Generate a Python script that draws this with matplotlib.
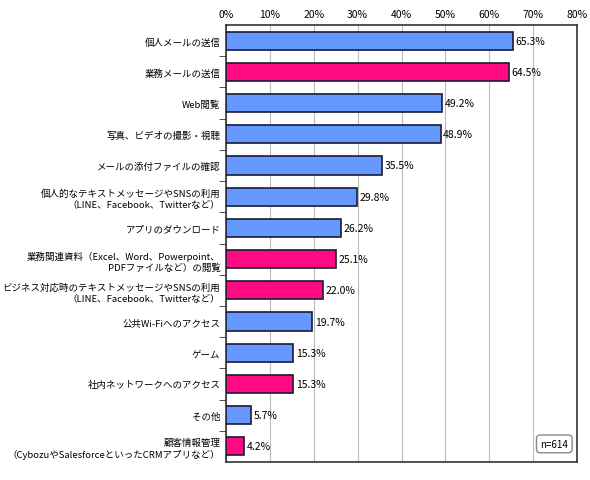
import matplotlib
matplotlib.use("Agg")
import matplotlib.pyplot as plt
from matplotlib.ticker import FixedLocator

plt.rcParams['font.family'] = ['Noto Sans CJK JP', 'DejaVu Sans']

categories = ["個人メールの送信", "業務メールの送信", "Web閲覧", "写真、ビデオの撮影・視聴",
              "メールの添付ファイルの確認",
              "個人的なテキストメッセージやSNSの利用\n（LINE、Facebook、Twitterなど）",
              "アプリのダウンロード",
              "業務関連資料（Excel、Word、Powerpoint、\nPDFファイルなど）の閲覧",
              "ビジネス対応時のテキストメッセージやSNSの利用\n（LINE、Facebook、Twitterなど）",
              "公共Wi-Fiへのアクセス", "ゲーム", "社内ネットワークへのアクセス", "その他",
              "顧客情報管理\n（CybozuやSalesforceといったCRMアプリなど）"]
values = [65.3, 64.5, 49.2, 48.9, 35.5, 29.8, 26.2, 25.1, 22.0, 19.7, 15.3, 15.3, 5.7, 4.2]
business = [0, 1, 0, 0, 0, 0, 0, 1, 1, 0, 0, 1, 0, 1]
ticks = [0, 10, 20, 30, 40, 50, 60, 70, 80]

blue, pink = "#6699FF", "#FF0A82"
fig = plt.figure(figsize=(5.9, 4.81), dpi=100)
ax = fig.add_axes([226/590, 1-463/481, 351/590, 437/481])
y = list(range(len(values)))
ax.barh(y, values, height=0.58, color=[pink if b else blue for b in business],
        edgecolor="#1a1a33", linewidth=1.2, zorder=3)
for yi, v in zip(y, values):
    ax.text(v + 0.6, yi, f"{v:.1f}%", va="center", ha="left", fontsize=7.5, zorder=4)
ax.set_xlim(0, 80)
ax.set_ylim(len(values) - 0.5, -0.5)
ax.xaxis.tick_top()
ax.set_xticks(ticks)
ax.set_xticklabels([f"{t}%" for t in ticks], fontsize=7.5)
ax.tick_params(axis='x', length=0, pad=4)
ax.set_yticks(y)
ax.set_yticklabels(categories, fontsize=6.8, linespacing=1.3)
ax.tick_params(axis='y', length=0, pad=4)
ax.yaxis.set_minor_locator(FixedLocator([i + 0.5 for i in range(len(values) - 1)]))
ax.tick_params(axis='y', which='minor', length=5, direction='out', color="#333333")
ax.grid(axis='x', color="#bbbbbb", linewidth=0.8, zorder=0)
for s in ax.spines.values():
    s.set_color("#333333"); s.set_linewidth(1.2)
ax.text(0.975, 0.03, "n=614", transform=ax.transAxes, ha="right", va="bottom", fontsize=7,
        bbox=dict(boxstyle="round,pad=0.4", fc="white", ec="#888888"), zorder=5)
fig.savefig("out.png", dpi=100)
